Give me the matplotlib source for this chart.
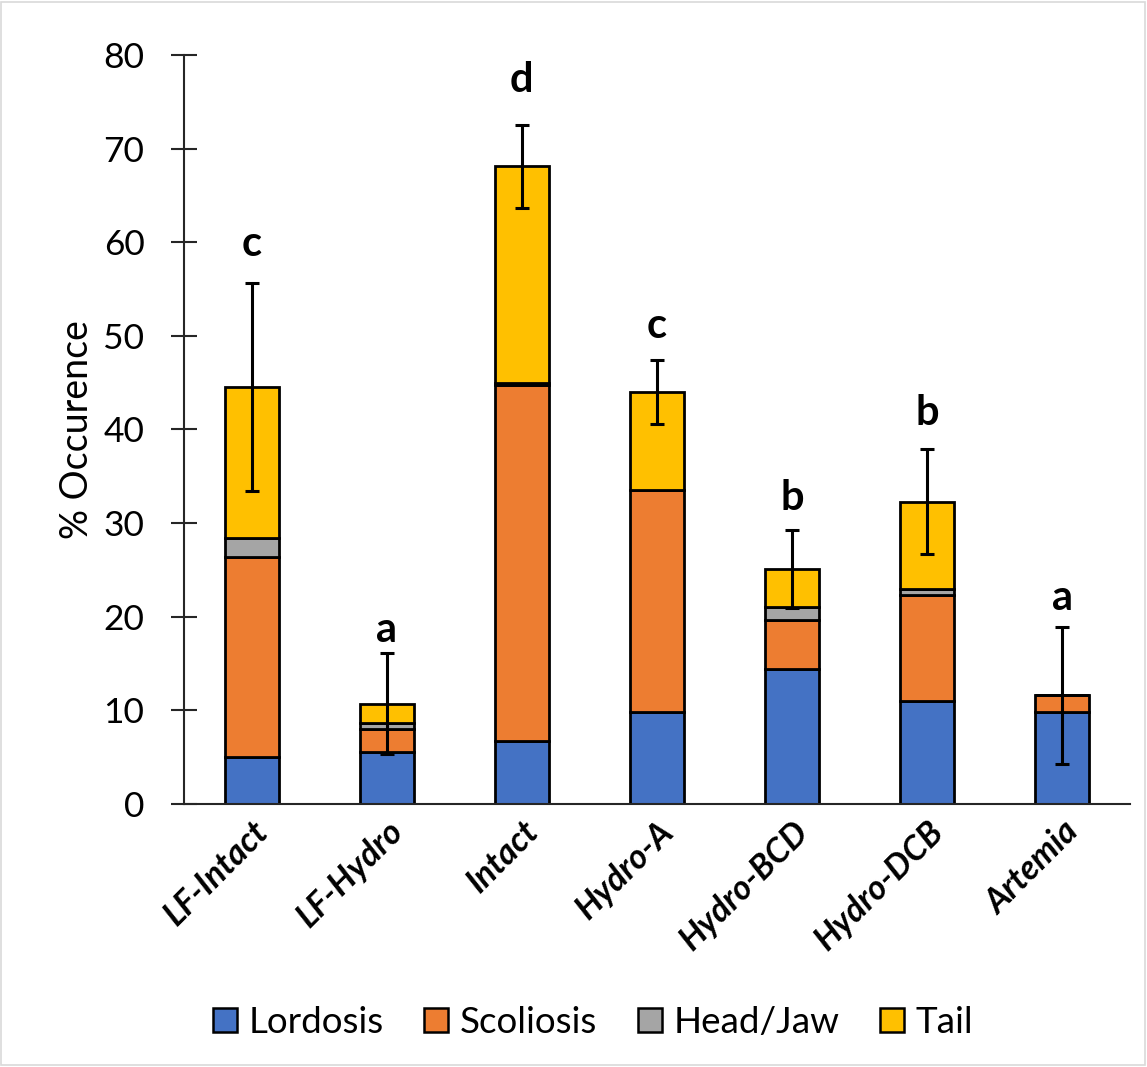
import matplotlib
matplotlib.use("Agg")
import matplotlib.pyplot as plt
from matplotlib.patches import Rectangle
import numpy as np

plt.rcParams['font.family'] = ['Lato', 'DejaVu Sans']

groups = ["LF-Intact", "LF-Hydro", "Intact", "Hydro-A", "Hydro-BCD", "Hydro-DCB", "Artemia"]
lordosis = [5.0, 5.5, 6.7, 9.8, 14.4, 11.0, 9.8]
scoliosis = [21.4, 2.5, 38.05, 23.7, 5.3, 11.3, 1.8]
head_jaw = [2.0, 0.7, 0.25, 0.0, 1.3, 0.7, 0.0]
tail = [16.1, 2.0, 23.1, 10.5, 4.1, 9.3, 0.0]
err = [11.1, 5.4, 4.4, 3.4, 4.2, 5.6, 7.3]
letters = ["c", "a", "d", "c", "b", "b", "a"]
letter_y = [58.5, 17.3, 76.0, 49.8, 31.4, 40.5, 20.7]

series = [("Lordosis", lordosis, "#4472C4"),
          ("Scoliosis", scoliosis, "#ED7D31"),
          ("Head/Jaw", head_jaw, "#A5A5A5"),
          ("Tail", tail, "#FFC000")]

fig = plt.figure(figsize=(11.47, 10.67), dpi=100)
ax = fig.add_axes([0.1604, 0.2465, 0.8246, 0.702])

x = np.arange(len(groups))
bottom = np.zeros(len(groups))
for name, vals, col in series:
    vals = np.array(vals)
    ax.bar(x, vals, width=0.4, bottom=bottom, color=col, edgecolor="black",
           linewidth=2, label=name, zorder=2)
    bottom = bottom + vals

ax.errorbar(x, bottom, yerr=err, fmt="none", ecolor="black", elinewidth=2.2,
            capsize=5, capthick=2.2, zorder=3)

for xi, lt, ly in zip(x, letters, letter_y):
    ax.text(xi, ly, lt, ha="center", va="baseline", fontsize=30, fontweight="bold")

ax.set_xlim(-0.5, len(groups) - 0.5)
ax.set_ylim(0, 80)
ax.set_yticks(np.arange(0, 81, 10))
ax.tick_params(axis="y", labelsize=25.5, length=19, width=1.5, color="#262626",
               direction="inout", pad=19)
ax.tick_params(axis="x", length=0, pad=8)
ax.set_xticks(x)
ax.set_xticklabels(groups, rotation=45, ha="right", rotation_mode="anchor",
                   fontsize=24.5, fontweight="bold", fontstyle="italic")
ax.set_ylabel("% Occurence", fontsize=27, labelpad=6)

for side in ("top", "right"):
    ax.spines[side].set_visible(False)
for side in ("left", "bottom"):
    ax.spines[side].set_color("#262626")
    ax.spines[side].set_linewidth(1.5)

leg = fig.legend(loc="center", bbox_to_anchor=(0.517, 0.042), ncol=4, frameon=False,
                 fontsize=26.5, handlelength=0.65, handleheight=0.62, handletextpad=0.32,
                 columnspacing=1.1)
for h in leg.legend_handles:
    h.set_linewidth(1.8)

fig.patches.append(Rectangle((0.001, 0.002), 0.997, 0.996, transform=fig.transFigure,
                             fill=False, edgecolor="#D9D9D9", linewidth=1.2))

fig.savefig("out.png", dpi=100, facecolor="white")
